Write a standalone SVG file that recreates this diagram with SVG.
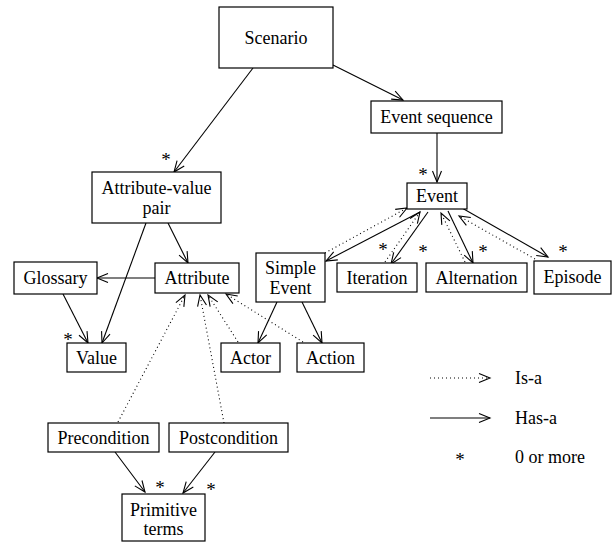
<svg xmlns="http://www.w3.org/2000/svg" width="616" height="542" viewBox="0 0 616 542" font-family="Liberation Serif, Times New Roman, serif">
<style>
rect{fill:#fff;stroke:#000;stroke-width:1.2}
text{font-family:'Liberation Serif','Times New Roman',serif;font-size:18px;fill:#000;text-anchor:middle}
.l{text-anchor:start}
.s{font-size:19px}
.h{fill:none;stroke:#000;stroke-width:1.1;marker-end:url(#a)}
.i{fill:none;stroke:#000;stroke-width:1.1;stroke-dasharray:1 3;marker-end:url(#a)}
</style>
<defs>
<marker id="a" markerUnits="userSpaceOnUse" markerWidth="14" markerHeight="14" viewBox="-12 -7 14 14" refX="0" refY="0" orient="auto">
<path d="M-11,-4.5 L0,0 L-11,4.5" fill="none" stroke="#000" stroke-width="1.1"/>
</marker>
</defs>
<g id="connectors">
<line class="h" x1="253" y1="68" x2="174" y2="172"/>
<line class="h" x1="333" y1="65" x2="403" y2="100"/>
<line class="h" x1="437" y1="133" x2="437" y2="182"/>
<line class="h" x1="168" y1="223" x2="188" y2="263"/>
<line class="h" x1="146" y1="223" x2="102" y2="343"/>
<line class="h" x1="155" y1="278" x2="97" y2="278"/>
<line class="h" x1="63" y1="294" x2="88" y2="343"/>
<line class="i" x1="118" y1="422" x2="185" y2="295"/>
<line class="i" x1="224" y1="423" x2="200" y2="295"/>
<line class="i" x1="238" y1="342" x2="208" y2="295"/>
<line class="i" x1="303" y1="342" x2="226" y2="294"/>
<line class="h" x1="277" y1="302" x2="258" y2="343"/>
<line class="h" x1="302" y1="302" x2="322" y2="343"/>
<line class="h" x1="115" y1="452" x2="145" y2="492"/>
<line class="h" x1="215" y1="452" x2="183" y2="493"/>
<line class="h" x1="420" y1="212" x2="326" y2="261"/>
<line class="i" x1="325" y1="253" x2="407" y2="208"/>
<line class="h" x1="428" y1="212" x2="391" y2="264"/>
<line class="i" x1="385" y1="262" x2="420" y2="212"/>
<line class="h" x1="448" y1="211" x2="473" y2="263"/>
<line class="i" x1="465" y1="262" x2="441" y2="213"/>
<line class="h" x1="462" y1="208" x2="548" y2="257"/>
<line class="i" x1="535" y1="259" x2="459" y2="216"/>
</g>
<g id="scenario"><rect x="219" y="7" width="114" height="61"/><text x="276" y="44">Scenario</text></g>
<g id="event-sequence"><rect x="371" y="101" width="131" height="32"/><text x="436.5" y="123">Event sequence</text></g>
<g id="event"><rect x="407" y="183" width="60" height="26"/><text x="437" y="202">Event</text></g>
<g id="avp"><rect x="92" y="172" width="129" height="51"/><text x="156.5" y="194">Attribute-value</text><text x="156.5" y="214">pair</text></g>
<g id="glossary"><rect x="14" y="262" width="83" height="32"/><text x="55.5" y="284">Glossary</text></g>
<g id="attribute"><rect x="155" y="263" width="84" height="30"/><text x="197" y="284">Attribute</text></g>
<g id="simple-event"><rect x="256" y="253" width="69" height="49"/><text x="290.5" y="274">Simple</text><text x="290.5" y="294">Event</text></g>
<g id="iteration"><rect x="337" y="263" width="80" height="29"/><text x="377" y="284">Iteration</text></g>
<g id="alternation"><rect x="426" y="263" width="101" height="29"/><text x="476.5" y="284">Alternation</text></g>
<g id="episode"><rect x="534" y="261" width="77" height="33"/><text x="572.5" y="283">Episode</text></g>
<g id="value"><rect x="67" y="343" width="59" height="29"/><text x="96.5" y="364">Value</text></g>
<g id="actor"><rect x="221" y="343" width="59" height="29"/><text x="250.5" y="364">Actor</text></g>
<g id="action"><rect x="297" y="343" width="67" height="29"/><text x="330.5" y="364">Action</text></g>
<g id="precondition"><rect x="48" y="423" width="111" height="29"/><text x="103.5" y="444">Precondition</text></g>
<g id="postcondition"><rect x="169" y="423" width="119" height="29"/><text x="228.5" y="444">Postcondition</text></g>
<g id="primitive-terms"><rect x="122" y="494" width="83" height="47"/><text x="163.5" y="516">Primitive</text><text x="163.5" y="535">terms</text></g>
<g id="stars">
<text class="s" x="166" y="166">*</text>
<text class="s" x="423" y="181">*</text>
<text class="s" x="68" y="346">*</text>
<text class="s" x="383" y="256">*</text>
<text class="s" x="423" y="258">*</text>
<text class="s" x="483" y="258">*</text>
<text class="s" x="563" y="258">*</text>
<text class="s" x="160" y="494">*</text>
<text class="s" x="211" y="496">*</text>
</g>
<g id="legend">
<line class="i" x1="430" y1="378" x2="490" y2="378"/>
<text class="l" x="515" y="384">Is-a</text>
<line class="h" x1="430" y1="418" x2="490" y2="418"/>
<text class="l" x="515" y="424">Has-a</text>
<text class="s" x="460" y="466">*</text>
<text class="l" x="515" y="463">0 or more</text>
</g>
</svg>
